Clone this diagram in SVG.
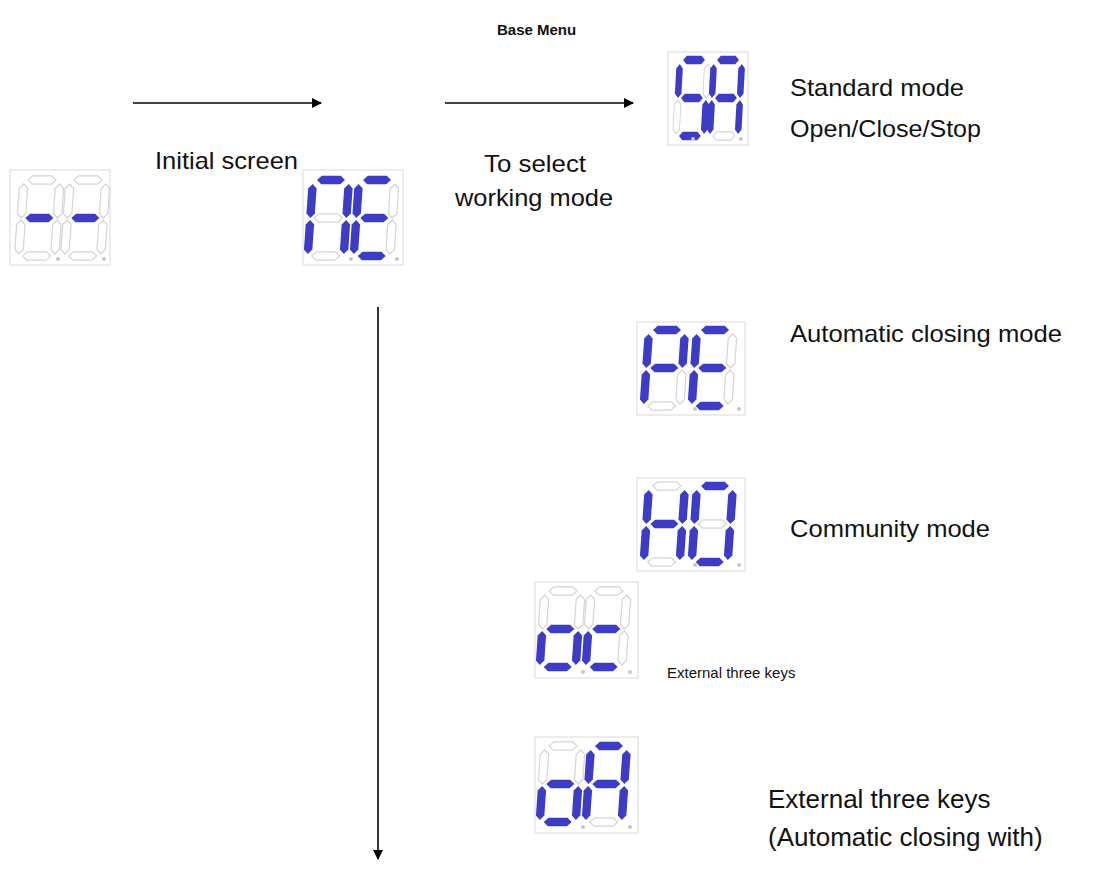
<svg xmlns="http://www.w3.org/2000/svg" width="1106" height="895" viewBox="0 0 1106 895">
<style>
.on{fill:#3c3cc4}
.off{fill:none;stroke:#d4d4d4;stroke-width:1.2}
.box{fill:#fff;stroke:#e6e6e6;stroke-width:1.5}
.dot{fill:#c8c8c8}
.t{font-family:"Liberation Sans",Arial,sans-serif;fill:#111}
.line{stroke:#000;stroke-width:1.6;fill:none}
</style>
<defs>
<path id="h" d="M0,0 l4.5,-4.2 h19 l4.5,4.2 l-4.5,4.2 h-19z"/>
<path id="v" d="M0,0 l4.2,4.5 v25 l-4.2,4.5 l-4.2,-4.5 v-25z"/>
<marker id="ar" markerWidth="10" markerHeight="10" refX="9" refY="5" orient="auto" markerUnits="userSpaceOnUse"><path d="M0,0 L10,5 L0,10z" fill="#000"/></marker>
</defs>
<rect width="1106" height="895" fill="#fff"/>
<g id="connectors">
<line class="line" x1="133" y1="103" x2="321" y2="103" marker-end="url(#ar)"/>
<line class="line" x1="445" y1="103" x2="633" y2="103" marker-end="url(#ar)"/>
<line class="line" x1="378" y1="307" x2="378" y2="859" marker-end="url(#ar)"/>
</g>
<g id="disp-dashdash" transform="translate(10,170)">
<rect class="box" x="0" y="0" width="100" height="95"/>
<g transform="translate(14,10) skewX(-4)">
<use href="#h" x="4" y="0" class="off"/><use href="#h" x="4" y="38" class="on"/><use href="#h" x="4" y="76" class="off"/>
<use href="#v" x="0" y="4" class="off"/><use href="#v" x="0" y="40" class="off"/><use href="#v" x="36" y="4" class="off"/><use href="#v" x="36" y="40" class="off"/>
</g>
<g transform="translate(60,10) skewX(-4)">
<use href="#h" x="4" y="0" class="off"/><use href="#h" x="4" y="38" class="on"/><use href="#h" x="4" y="76" class="off"/>
<use href="#v" x="0" y="4" class="off"/><use href="#v" x="0" y="40" class="off"/><use href="#v" x="36" y="4" class="off"/><use href="#v" x="36" y="40" class="off"/>
</g>
<circle class="dot" cx="48" cy="89" r="2"/><circle class="dot" cx="94" cy="89" r="2"/>
</g>
<g id="disp-NE" transform="translate(303,170)">
<rect class="box" x="0" y="0" width="100" height="95"/>
<g transform="translate(10,10) skewX(-4)">
<use href="#h" x="4" y="0" class="on"/><use href="#h" x="4" y="38" class="off"/><use href="#h" x="4" y="76" class="off"/>
<use href="#v" x="0" y="4" class="on"/><use href="#v" x="0" y="40" class="on"/><use href="#v" x="36" y="4" class="on"/><use href="#v" x="36" y="40" class="on"/>
</g>
<g transform="translate(56,10) skewX(-4)">
<use href="#h" x="4" y="0" class="on"/><use href="#h" x="4" y="38" class="on"/><use href="#h" x="4" y="76" class="on"/>
<use href="#v" x="0" y="4" class="on"/><use href="#v" x="0" y="40" class="on"/><use href="#v" x="36" y="4" class="off"/><use href="#v" x="36" y="40" class="off"/>
</g>
<circle class="dot" cx="48" cy="89" r="2"/><circle class="dot" cx="94" cy="89" r="2"/>
</g>
<g id="disp-SA" transform="translate(668,52)">
<rect class="box" x="0" y="0" width="80" height="93"/>
<g transform="translate(12,8) scale(0.78,1) skewX(-4)">
<use href="#h" x="4" y="0" class="on"/><use href="#h" x="4" y="38" class="on"/><use href="#h" x="4" y="76" class="on"/>
<use href="#v" x="0" y="4" class="on"/><use href="#v" x="0" y="40" class="off"/><use href="#v" x="36" y="4" class="off"/><use href="#v" x="36" y="40" class="on"/>
</g>
<g transform="translate(46,8) scale(0.78,1) skewX(-4)">
<use href="#h" x="4" y="0" class="on"/><use href="#h" x="4" y="38" class="on"/><use href="#h" x="4" y="76" class="off"/>
<use href="#v" x="0" y="4" class="on"/><use href="#v" x="0" y="40" class="on"/><use href="#v" x="36" y="4" class="on"/><use href="#v" x="36" y="40" class="on"/>
</g>
<circle class="dot" cx="25" cy="87" r="2"/><circle class="dot" cx="73" cy="87" r="2"/>
</g>
<g id="disp-PE" transform="translate(637,322)">
<rect class="box" x="0" y="0" width="108" height="93"/>
<g transform="translate(12,8) skewX(-4)">
<use href="#h" x="4" y="0" class="on"/><use href="#h" x="4" y="38" class="on"/><use href="#h" x="4" y="76" class="off"/>
<use href="#v" x="0" y="4" class="on"/><use href="#v" x="0" y="40" class="on"/><use href="#v" x="36" y="4" class="on"/><use href="#v" x="36" y="40" class="off"/>
</g>
<g transform="translate(60,8) skewX(-4)">
<use href="#h" x="4" y="0" class="on"/><use href="#h" x="4" y="38" class="on"/><use href="#h" x="4" y="76" class="on"/>
<use href="#v" x="0" y="4" class="on"/><use href="#v" x="0" y="40" class="on"/><use href="#v" x="36" y="4" class="off"/><use href="#v" x="36" y="40" class="off"/>
</g>
<circle class="dot" cx="58" cy="87" r="2"/><circle class="dot" cx="102" cy="87" r="2"/>
</g>
<g id="disp-HO" transform="translate(637,478)">
<rect class="box" x="0" y="0" width="108" height="93"/>
<g transform="translate(12,8) skewX(-4)">
<use href="#h" x="4" y="0" class="off"/><use href="#h" x="4" y="38" class="on"/><use href="#h" x="4" y="76" class="off"/>
<use href="#v" x="0" y="4" class="on"/><use href="#v" x="0" y="40" class="on"/><use href="#v" x="36" y="4" class="on"/><use href="#v" x="36" y="40" class="on"/>
</g>
<g transform="translate(60,8) skewX(-4)">
<use href="#h" x="4" y="0" class="on"/><use href="#h" x="4" y="38" class="off"/><use href="#h" x="4" y="76" class="on"/>
<use href="#v" x="0" y="4" class="on"/><use href="#v" x="0" y="40" class="on"/><use href="#v" x="36" y="4" class="on"/><use href="#v" x="36" y="40" class="on"/>
</g>
<circle class="dot" cx="58" cy="87" r="2"/><circle class="dot" cx="102" cy="87" r="2"/>
</g>
<g id="disp-oc" transform="translate(535,582)">
<rect class="box" x="0" y="0" width="103" height="96"/>
<g transform="translate(10,9) skewX(-4)">
<use href="#h" x="4" y="0" class="off"/><use href="#h" x="4" y="38" class="on"/><use href="#h" x="4" y="76" class="on"/>
<use href="#v" x="0" y="4" class="off"/><use href="#v" x="0" y="40" class="on"/><use href="#v" x="36" y="4" class="off"/><use href="#v" x="36" y="40" class="on"/>
</g>
<g transform="translate(56,9) skewX(-4)">
<use href="#h" x="4" y="0" class="off"/><use href="#h" x="4" y="38" class="on"/><use href="#h" x="4" y="76" class="on"/>
<use href="#v" x="0" y="4" class="off"/><use href="#v" x="0" y="40" class="on"/><use href="#v" x="36" y="4" class="off"/><use href="#v" x="36" y="40" class="off"/>
</g>
<circle class="dot" cx="48" cy="90" r="2"/><circle class="dot" cx="95" cy="90" r="2"/>
</g>
<g id="disp-oA" transform="translate(535,737)">
<rect class="box" x="0" y="0" width="103" height="96"/>
<g transform="translate(10,9) skewX(-4)">
<use href="#h" x="4" y="0" class="off"/><use href="#h" x="4" y="38" class="on"/><use href="#h" x="4" y="76" class="on"/>
<use href="#v" x="0" y="4" class="off"/><use href="#v" x="0" y="40" class="on"/><use href="#v" x="36" y="4" class="off"/><use href="#v" x="36" y="40" class="on"/>
</g>
<g transform="translate(56,9) skewX(-4)">
<use href="#h" x="4" y="0" class="on"/><use href="#h" x="4" y="38" class="on"/><use href="#h" x="4" y="76" class="off"/>
<use href="#v" x="0" y="4" class="on"/><use href="#v" x="0" y="40" class="on"/><use href="#v" x="36" y="4" class="on"/><use href="#v" x="36" y="40" class="on"/>
</g>
<circle class="dot" cx="48" cy="90" r="2"/><circle class="dot" cx="95" cy="90" r="2"/>
</g>
<g id="labels">
<text class="t" x="497" y="35" font-size="15" font-weight="bold">Base Menu</text>
<text class="t" x="155" y="169" font-size="24" textLength="143" lengthAdjust="spacingAndGlyphs">Initial screen</text>
<text class="t" x="484" y="172" font-size="24" textLength="102" lengthAdjust="spacingAndGlyphs">To select</text>
<text class="t" x="455" y="206" font-size="24" textLength="158" lengthAdjust="spacingAndGlyphs">working mode</text>
<text class="t" x="790" y="96" font-size="24" textLength="174" lengthAdjust="spacingAndGlyphs">Standard mode</text>
<text class="t" x="790" y="137" font-size="24" textLength="191" lengthAdjust="spacingAndGlyphs">Open/Close/Stop</text>
<text class="t" x="790" y="342" font-size="24" textLength="272" lengthAdjust="spacingAndGlyphs">Automatic closing mode</text>
<text class="t" x="790" y="537" font-size="24" textLength="200" lengthAdjust="spacingAndGlyphs">Community mode</text>
<text class="t" x="667" y="678" font-size="15">External three keys</text>
<text class="t" x="768" y="808" font-size="26">External three keys</text>
<text class="t" x="768" y="846" font-size="26">(Automatic closing with)</text>
</g>
</svg>
